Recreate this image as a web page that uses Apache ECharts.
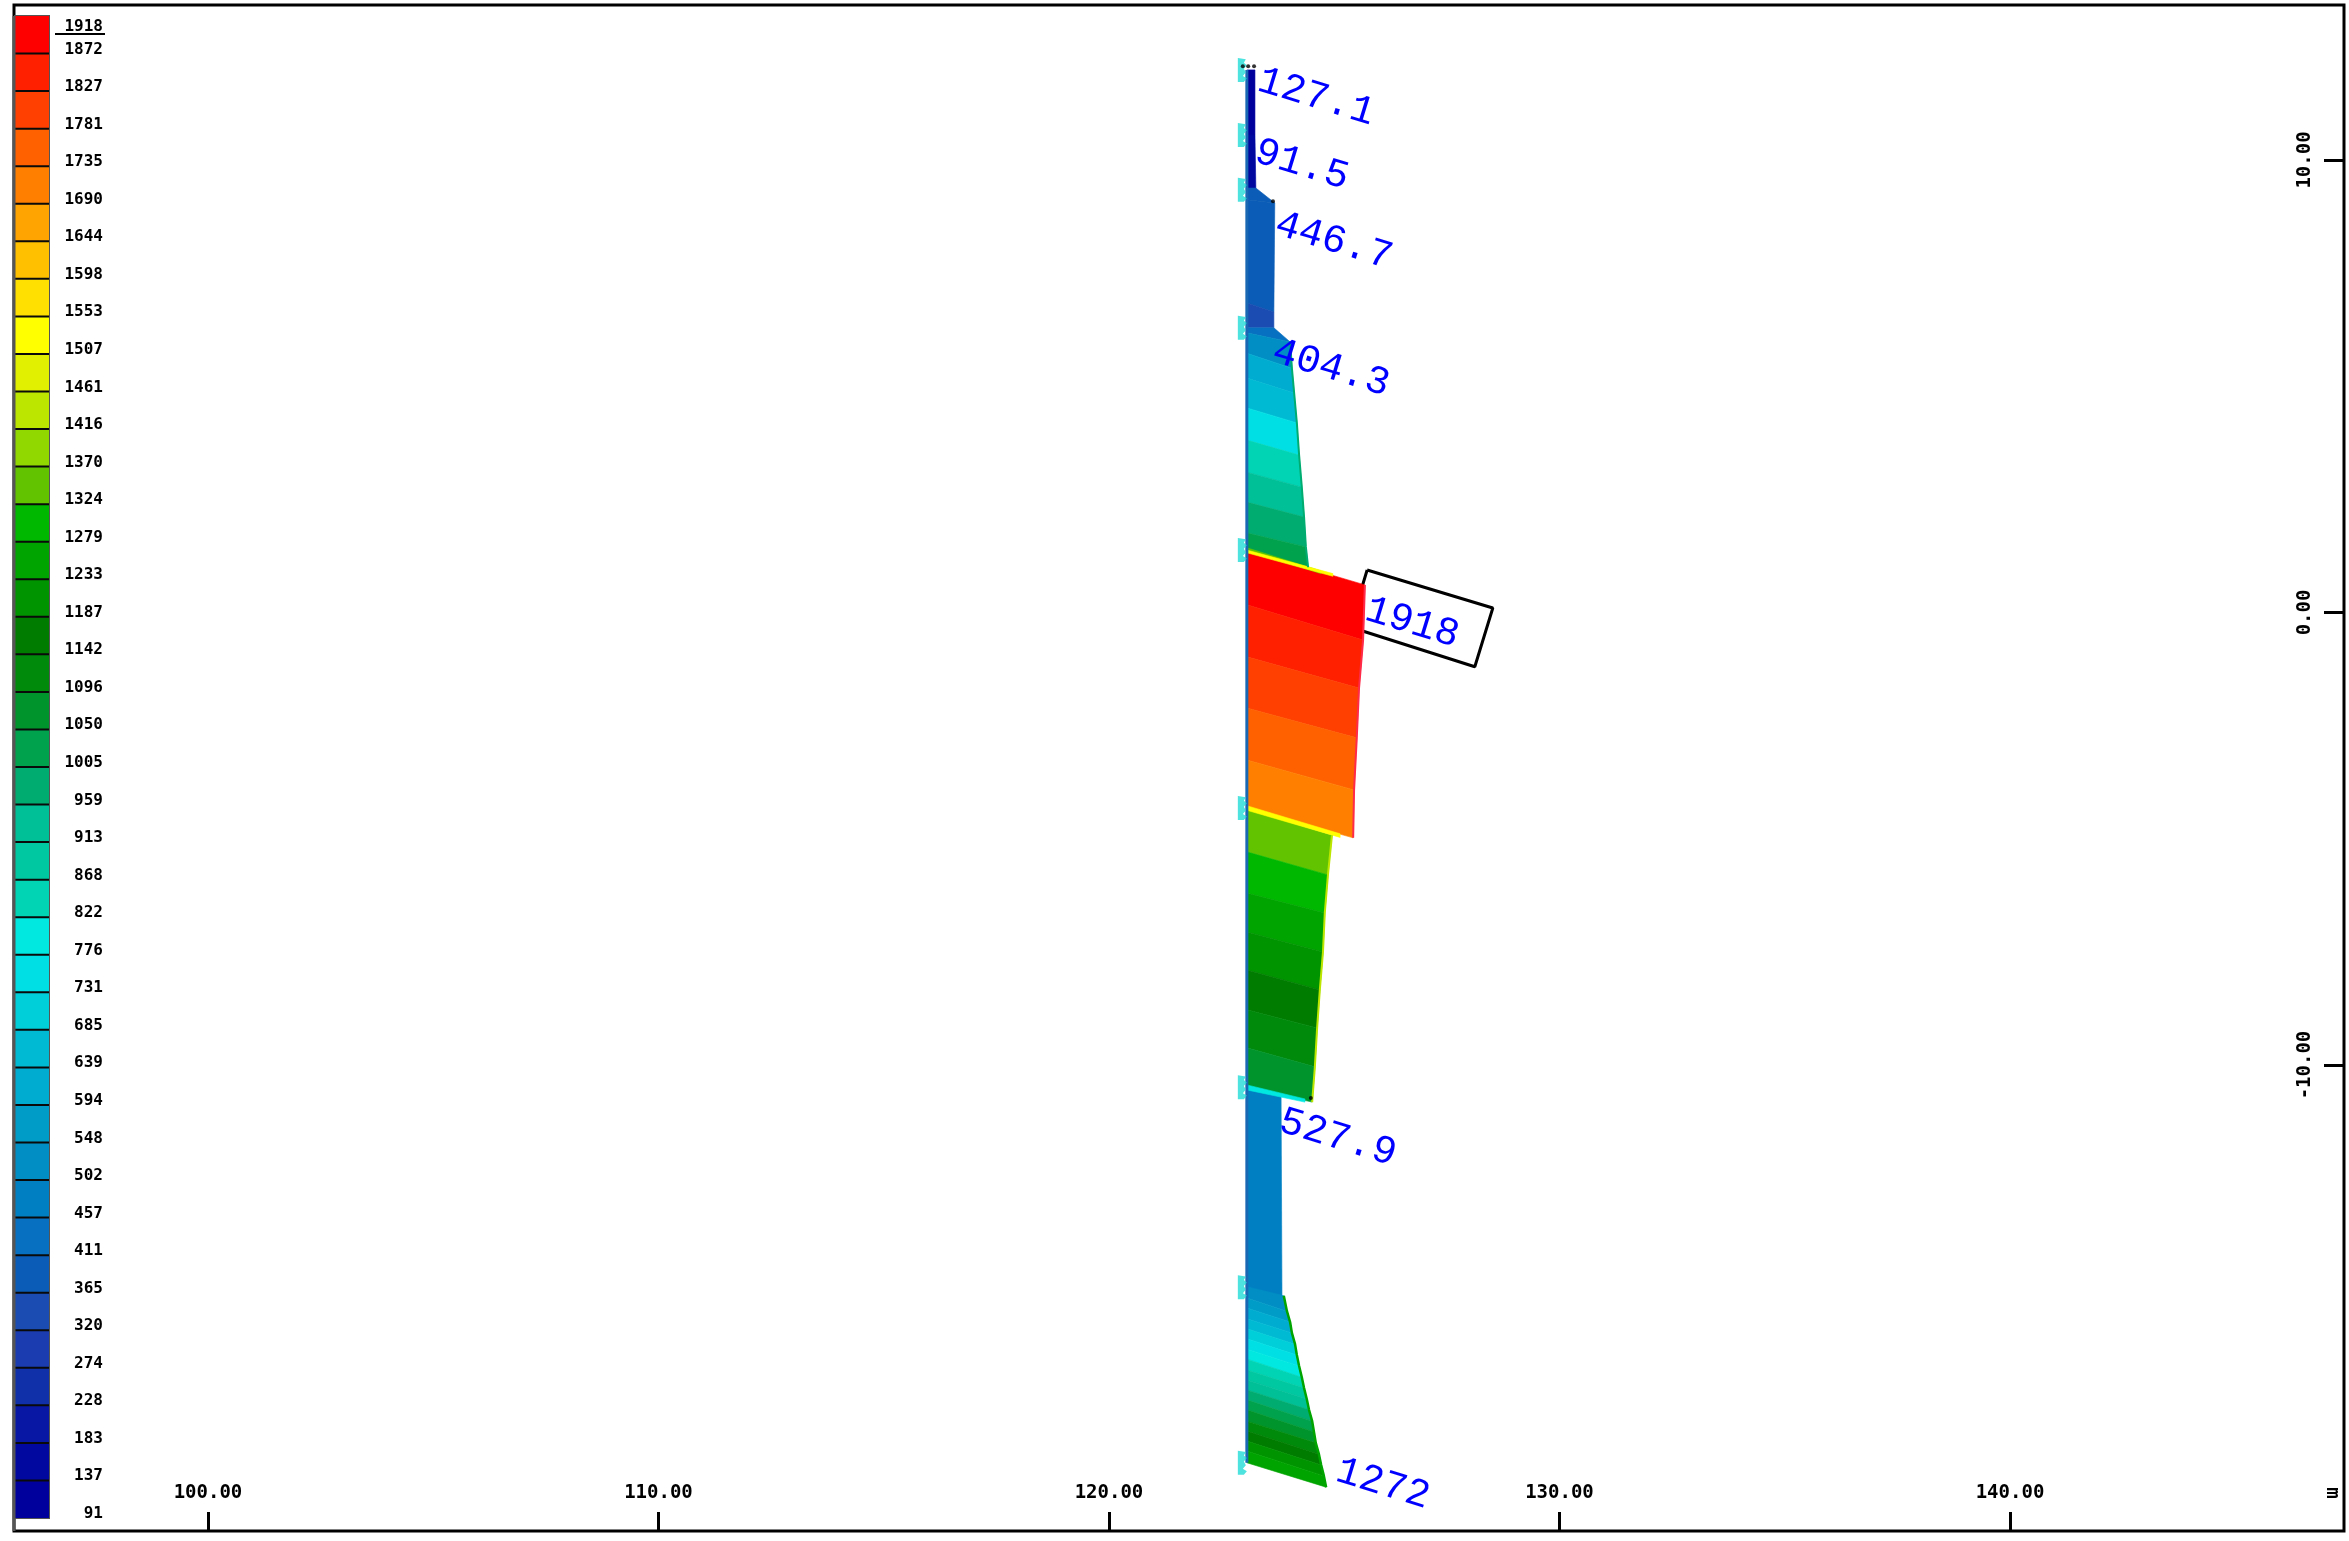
<!DOCTYPE html>
<html>
<head>
<meta charset="utf-8">
<style>html,body{margin:0;padding:0;background:#fff}#c{width:2349px;height:1541px}</style>
<script src="https://cdn.jsdelivr.net/npm/echarts@6/dist/echarts.min.js"></script>
</head>
<body>
<div id="c"></div>
<script>
// Colour scale: class limits (top to bottom) and the colour of each class
const legendLabels = [1918,1872,1827,1781,1735,1690,1644,1598,1553,1507,1461,1416,1370,1324,1279,1233,1187,1142,1096,1050,1005,959,913,868,822,776,731,685,639,594,548,502,457,411,365,320,274,228,183,137,91];
const legendColors = ['#ff0000','#ff2000','#ff4000','#ff6000','#ff8000','#ffa400','#ffc000','#ffe000','#ffff00','#e0f000','#bce600','#90d800','#62c400','#00b800','#00a400','#009400','#007c00','#008a0c','#00952c','#00a24e','#00ac70','#00c098','#00c8a0','#00d4b4','#00e8e0','#00e0e4','#00ced8','#00bad4','#00acd0','#009cc8','#008ec4','#0080c2','#0870c0','#0a5cb6','#1a4cb2','#1a3cb0','#1030aa','#0818a4','#0008a0','#00009c'];

// Axis ticks
const xTicks = [100,110,120,130,140];
const yTicks = [-10,0,10];

// Wall position (m) and contour bands of each soil layer:
// band value, depth at the wall and at the diagram edge, and edge offset
const wallX = 123.06;
const seg1Values = [114,160];
const seg1LeftY = [11.99,10.55,9.34];
const seg1RightY = [11.99,10.55,9.38];
const seg1RightX = [123.24,123.24,123.26];

const seg2Values = [388,388,342];
const seg2LeftY = [9.38,9.12,6.84,6.29];
const seg2RightY = [9.38,9.05,6.64,6.29];
const seg2RightX = [123.26,123.68,123.66,123.66];

const seg3Values = [434,525,616,662,753,845,936,982,1027];
const seg3LeftY = [6.29,6.18,5.73,5.18,4.52,3.81,3.10,2.44,1.76,1.38];
const seg3RightY = [6.29,5.98,5.40,4.85,4.19,3.48,2.77,2.11,1.45,1.00];
const seg3RightX = [123.66,124.02,124.06,124.11,124.17,124.22,124.28,124.33,124.37,124.42];

const seg4Values = [1895,1850,1804,1758,1713];
const seg4LeftY = [1.38,0.17,-0.98,-2.11,-3.26,-4.32];
const seg4RightY = [0.61,-0.61,-1.67,-2.77,-3.92,-4.98];
const seg4RightX = [125.68,125.64,125.55,125.50,125.44,125.42];

const seg5Values = [1347,1301,1256,1210,1164,1119,1073];
const seg5LeftY = [-4.35,-5.29,-6.20,-7.06,-7.90,-8.78,-9.62,-10.49];
const seg5RightY = [-4.92,-5.80,-6.64,-7.50,-8.34,-9.18,-10.04,-10.82];
const seg5RightX = [124.95,124.86,124.79,124.75,124.68,124.62,124.57,124.51];

const seg6Values = [480];
const seg6LeftY = [-10.50,-14.91];
const seg6RightY = [-10.68,-15.13];
const seg6RightX = [123.82,123.84];

const seg7Values = [525,570,616,662,708,753,800,845,890,936,982,1027,1073,1119,1164,1210,1256];
const seg7LeftY = [-14.90,-15.15,-15.37,-15.61,-15.83,-16.05,-16.28,-16.50,-16.74,-16.96,-17.18,-17.40,-17.62,-17.87,-18.09,-18.31,-18.53,-18.79];
const seg7RightY = [-15.10,-15.44,-15.68,-15.92,-16.17,-16.41,-16.65,-16.90,-17.14,-17.38,-17.62,-17.87,-18.11,-18.35,-18.60,-18.84,-19.08,-19.33];
const seg7RightX = [123.88,123.95,124.02,124.06,124.13,124.17,124.22,124.28,124.33,124.39,124.44,124.51,124.55,124.59,124.66,124.71,124.77,124.82];

// Thin transition bands at layer boundaries
const stripeValues = [1347,1530,1530,800];
const stripeLeftTop = [1.43,1.38,-4.27,-10.44];
const stripeLeftBottom = [1.38,1.32,-4.37,-10.55];
const stripeRightTop = [0.92,0.86,-4.89,-10.75];
const stripeRightBottom = [0.86,0.80,-4.97,-10.82];
const stripeRightX = [124.70,124.97,125.13,124.35];

// Peak value labels
const peakLabels = ['127.1','91.5','446.7','404.3','1918','527.9','1272'];
const peakX = [124.60,124.28,124.99,124.93,126.73,125.08,126.08];
const peakY = [11.39,9.89,8.21,5.40,-0.23,-11.61,-19.26];

// Box around the maximum value
const boxX = [125.73,128.52,128.12,125.35,125.73];
const boxY = [0.94,0.10,-1.20,-0.32,0.94];

// Node supports along the wall and small dark nodes
const nodeY = [11.99,10.55,9.34,6.29,1.38,-4.32,-10.49,-14.91,-18.79];
const dotX = [122.97,123.09,123.22,123.64,124.48];
const dotY = [12.07,12.07,12.07,9.09,-10.73];

const colorOf = v => {
  for (let i = 0; i < legendColors.length; i++) {
    if (v <= legendLabels[i] && v >= legendLabels[i + 1]) return legendColors[i];
  }
  return '#000';
};

const bands = [];
function addSegment(values, left, right, rx) {
  values.forEach((v, i) => {
    bands.push([wallX, left[i], rx[i], right[i], rx[i + 1], right[i + 1], wallX, left[i + 1], v]);
  });
}
addSegment(seg1Values, seg1LeftY, seg1RightY, seg1RightX);
addSegment(seg2Values, seg2LeftY, seg2RightY, seg2RightX);
addSegment(seg3Values, seg3LeftY, seg3RightY, seg3RightX);
addSegment(seg4Values, seg4LeftY, seg4RightY, seg4RightX);
addSegment(seg5Values, seg5LeftY, seg5RightY, seg5RightX);
addSegment(seg6Values, seg6LeftY, seg6RightY, seg6RightX);
addSegment(seg7Values, seg7LeftY, seg7RightY, seg7RightX);
stripeValues.forEach((v, i) => {
  bands.push([wallX, stripeLeftTop[i], stripeRightX[i], stripeRightTop[i], stripeRightX[i], stripeRightBottom[i], wallX, stripeLeftBottom[i], v]);
});

const edge = (xs, ys, color, width) => ({
  type: 'line', xAxisIndex: 0, yAxisIndex: 0, symbol: 'none', silent: true, z: 4, clip: false,
  data: xs.map((x, i) => [x, ys[i]]), lineStyle: { color, width }
});

const axisFont = { fontFamily: 'DejaVu Sans Mono', fontWeight: 'bold', fontSize: 19, color: '#000' };
const jagged = 'path://M0 0 L8 1 L6 4 L9 6 L6 9 L8 12 L5 15 L9 17 L6 20 L0 20 Z';

const option = {
  animation: false,
  backgroundColor: '#fff',
  grid: [
    { left: 14, top: 5, width: 2330, height: 1526, show: true, borderColor: '#000', borderWidth: 3, backgroundColor: 'transparent' },
    { left: 15, top: 16, width: 34, height: 1502, show: true, borderColor: '#555', borderWidth: 2, backgroundColor: 'transparent' }
  ],
  xAxis: [
    { type: 'value', gridIndex: 0, min: 95.694, max: 147.414, position: 'bottom',
      splitLine: { show: false }, axisLine: { show: false, onZero: false },
      axisTick: { show: true, inside: true, length: 19, customValues: xTicks, lineStyle: { color: '#000', width: 3 } },
      axisLabel: { show: true, inside: true, margin: 28, customValues: xTicks, formatter: v => v.toFixed(2), hideOverlap: false, ...axisFont } },
    { type: 'value', gridIndex: 1, min: 0, max: 1, show: false }
  ],
  yAxis: [
    { type: 'value', gridIndex: 0, min: -20.298, max: 13.425, position: 'right',
      splitLine: { show: false }, axisLine: { show: false, onZero: false },
      axisTick: { show: true, inside: true, length: 20, customValues: yTicks, lineStyle: { color: '#000', width: 3 } },
      axisLabel: { show: true, inside: true, rotate: 90, margin: 29, customValues: yTicks, formatter: v => v.toFixed(2), hideOverlap: false, ...axisFont } },
    { type: 'value', gridIndex: 1, min: 0, max: 40, inverse: true, position: 'right',
      splitLine: { show: false }, axisLine: { show: false, onZero: false }, axisTick: { show: false },
      axisLabel: { show: true, margin: 54, align: 'right', hideOverlap: false,
        customValues: legendLabels.map((_, i) => i === 0 ? 0.29 : i - 0.11),
        formatter: v => String(legendLabels[v < 0.5 ? 0 : Math.ceil(v)]),
        fontFamily: 'DejaVu Sans Mono', fontWeight: 'bold', fontSize: 16, color: '#000' } }
  ],
  graphic: [
    { type: 'line', z: 20, silent: true, shape: { x1: 55, y1: 34, x2: 105, y2: 34 }, style: { stroke: '#000', lineWidth: 2 } },
    { type: 'line', z: 20, silent: true, shape: { x1: 14, y1: 16, x2: 14, y2: 1531 }, style: { stroke: '#555', lineWidth: 3 } },
    { type: 'text', z: 20, silent: true, x: 2332, y: 1493, rotation: -Math.PI / 2,
      style: { text: 'm', font: 'bold 19px "DejaVu Sans Mono"', fill: '#000', align: 'center', verticalAlign: 'middle' } }
  ],
  series: [
    // colour scale
    { type: 'custom', xAxisIndex: 1, yAxisIndex: 1, silent: true, z: 3, clip: false,
      data: legendColors.map((c, i) => [i, i + 1]),
      renderItem: (params, api) => {
        const p0 = api.coord([0, api.value(0)]);
        const p1 = api.coord([1, api.value(1)]);
        const kids = [{ type: 'rect', shape: { x: p0[0], y: p0[1], width: p1[0] - p0[0], height: p1[1] - p0[1] },
          style: { fill: legendColors[params.dataIndex] } }];
        if (params.dataIndex > 0) {
          kids.push({ type: 'line', shape: { x1: p0[0], y1: p0[1], x2: p1[0], y2: p0[1] }, style: { stroke: '#0a0a0a', lineWidth: 2 } });
        }
        return { type: 'group', children: kids };
      } },
    // box behind everything
    { type: 'line', xAxisIndex: 0, yAxisIndex: 0, symbol: 'none', silent: true, z: 2,
      data: boxX.map((x, i) => [x, boxY[i]]), lineStyle: { color: '#000', width: 3 } },
    // contour bands
    { type: 'custom', xAxisIndex: 0, yAxisIndex: 0, silent: true, z: 3,
      dimensions: ['x1','y1','x2','y2','x3','y3','x4','y4','v'],
      encode: { x: 0, y: 1 },
      data: bands,
      renderItem: (params, api) => {
        const pts = [0, 2, 4, 6].map(k => api.coord([api.value(k), api.value(k + 1)]));
        const c = colorOf(api.value(8));
        return { type: 'polygon', shape: { points: pts }, style: { fill: c, stroke: c, lineWidth: 0.6 } };
      } },
    // diagram edges and wall line
    edge(seg3RightX.slice(1), seg3RightY.slice(1), colorOf(982), 2),
    edge(seg4RightX, seg4RightY, '#ff2a48', 2),
    edge(seg5RightX, seg5RightY, colorOf(1438), 2),
    edge(seg7RightX, seg7RightY, colorOf(1256), 2.5),
    edge([wallX, wallX], [11.99, -18.79], '#1a68b4', 3),
    // supports
    { type: 'scatter', xAxisIndex: 0, yAxisIndex: 0, silent: true, z: 5,
      symbol: jagged, symbolSize: [9, 24], itemStyle: { color: '#22dcd6' },
      data: nodeY.map(y => [122.96, y]) },
    { type: 'scatter', xAxisIndex: 0, yAxisIndex: 0, silent: true, z: 6,
      symbol: 'circle', symbolSize: 4, itemStyle: { color: '#000' },
      data: dotX.map((x, i) => [x, dotY[i]]) },
    // peak labels
    { type: 'custom', xAxisIndex: 0, yAxisIndex: 0, silent: true, z: 7,
      data: peakLabels.map((t, i) => [peakX[i], peakY[i]]),
      renderItem: (params, api) => {
        const p = api.coord([api.value(0), api.value(1)]);
        return { type: 'text', x: p[0], y: p[1], rotation: -17 * Math.PI / 180,
          style: { text: peakLabels[params.dataIndex], font: '40px "Liberation Mono"', fill: '#0000ff', align: 'center', verticalAlign: 'middle' } };
      } }
  ]
};
echarts.init(document.getElementById('c')).setOption(option);
</script>
</body>
</html>
